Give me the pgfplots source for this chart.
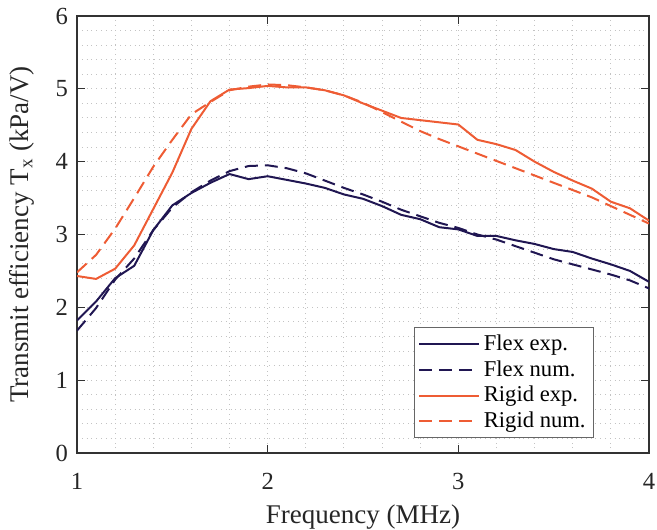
\documentclass[border=0pt]{standalone}
\usepackage{pgfplots}
\pgfplotsset{compat=1.18}
\usepackage{fontspec}
\setmainfont{Liberation Serif}
\definecolor{navy}{RGB}{32,22,82}
\definecolor{orng}{RGB}{238,92,52}
\definecolor{gridc}{RGB}{195,195,195}
\definecolor{axc}{RGB}{50,50,50}
\begin{document}
\begin{tikzpicture}
\begin{axis}[
  name=ax,
  scale only axis,
  width=286pt, height=218.5pt,
  xmin=1, xmax=4, ymin=0, ymax=6,
  xtick={1,2,3,4}, ytick={0,1,2,3,4,5,6},
  minor x tick num=4, minor y tick num=4,
  grid=both,
  major grid style={gridc, dotted, line width=0.5pt},
  minor grid style={gridc, dotted, line width=0.5pt},
  axis line style={axc, line width=0.6pt},
  tick style={axc, line width=0.6pt},
  major tick length=4pt, minor tick length=0pt,
  tick align=inside,
  /pgf/number format/assume math mode=true,
  ticklabel style={font=\fontsize{12.3}{14}\selectfont, text=black!85},
  xticklabel style={yshift=-6.5pt},
  yticklabel style={xshift=-1pt},
  label style={font=\fontsize{13.5}{15}\selectfont, text=black!85},
  xlabel={Frequency (MHz)},
  ylabel={Transmit efficiency T\textsubscript{x} (kPa/V)},
  xlabel style={yshift=-0.5pt},
  ylabel style={yshift=4pt},
  legend style={at={(rel axis cs:0.904,0.034)}, anchor=south east, draw=black!60, line width=0.5pt, font=\fontsize{11.3}{13}\selectfont, inner xsep=2pt, inner ysep=1.5pt, row sep=-0.5pt, cells={anchor=west}},
  legend image post style={xscale=1.75, line width=1pt},
  every axis plot/.append style={line width=1pt, line join=round},
]
\addplot[navy] coordinates {
(1.0,1.82) (1.1,2.08) (1.2,2.40) (1.3,2.57) (1.4,3.06) (1.5,3.40) (1.6,3.57) (1.7,3.71) (1.8,3.83) (1.9,3.76) (2.0,3.80) (2.1,3.75) (2.2,3.70) (2.3,3.64) (2.4,3.55) (2.5,3.49) (2.6,3.39) (2.7,3.27) (2.8,3.21) (2.9,3.10) (3.0,3.07) (3.1,2.98) (3.2,2.98) (3.3,2.92) (3.4,2.87) (3.5,2.80) (3.6,2.76) (3.7,2.67) (3.8,2.59) (3.9,2.50) (4.0,2.35)};
\addlegendentry{Flex exp.}
\addplot[navy, dash pattern=on 6.5pt off 3.5pt] coordinates {
(1.0,1.68) (1.1,1.99) (1.2,2.38) (1.3,2.67) (1.4,3.06) (1.5,3.37) (1.6,3.58) (1.7,3.74) (1.8,3.87) (1.9,3.94) (2.0,3.95) (2.1,3.91) (2.2,3.84) (2.3,3.74) (2.4,3.64) (2.5,3.55) (2.6,3.45) (2.7,3.34) (2.8,3.25) (2.9,3.16) (3.0,3.09) (3.1,3.00) (3.2,2.93) (3.3,2.84) (3.4,2.75) (3.5,2.66) (3.6,2.59) (3.7,2.52) (3.8,2.45) (3.9,2.37) (4.0,2.26)};
\addlegendentry{Flex num.}
\addplot[orng] coordinates {
(1.0,2.43) (1.1,2.39) (1.2,2.53) (1.3,2.85) (1.4,3.35) (1.5,3.85) (1.6,4.45) (1.7,4.83) (1.8,4.99) (1.9,5.01) (2.0,5.04) (2.1,5.02) (2.2,5.02) (2.3,4.98) (2.4,4.91) (2.5,4.80) (2.6,4.70) (2.7,4.60) (2.8,4.57) (2.9,4.54) (3.0,4.51) (3.1,4.30) (3.2,4.24) (3.3,4.16) (3.4,4.00) (3.5,3.86) (3.6,3.74) (3.7,3.63) (3.8,3.45) (3.9,3.36) (4.0,3.19)};
\addlegendentry{Rigid exp.}
\addplot[orng, dash pattern=on 6.5pt off 3.5pt] coordinates {
(1.0,2.48) (1.1,2.72) (1.2,3.08) (1.3,3.50) (1.4,3.93) (1.5,4.30) (1.6,4.65) (1.7,4.82) (1.8,4.98) (1.9,5.03) (2.0,5.06) (2.1,5.05) (2.2,5.02) (2.3,4.98) (2.4,4.91) (2.5,4.81) (2.6,4.68) (2.7,4.55) (2.8,4.42) (2.9,4.31) (3.0,4.21) (3.1,4.11) (3.2,4.01) (3.3,3.91) (3.4,3.81) (3.5,3.71) (3.6,3.61) (3.7,3.51) (3.8,3.39) (3.9,3.27) (4.0,3.15)};
\addlegendentry{Rigid num.}
\end{axis}
\pgfresetboundingbox
\path ([shift={(-38.5pt,-38pt)}]ax.south west) rectangle ([shift={(4pt,8pt)}]ax.north east);
\end{tikzpicture}
\end{document}
